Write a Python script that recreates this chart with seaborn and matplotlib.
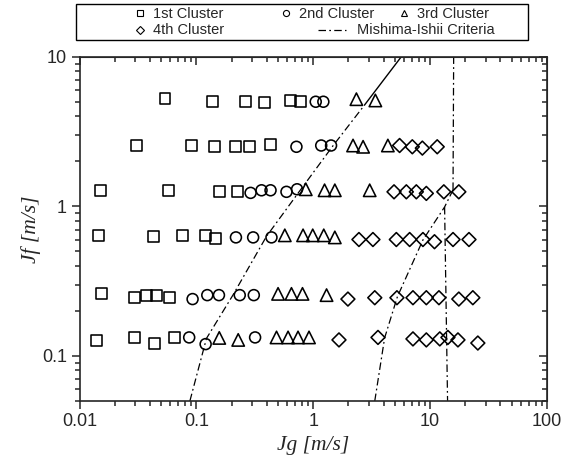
import numpy as np
import pandas as pd
import matplotlib
matplotlib.use("Agg")
import matplotlib.pyplot as plt
import seaborn as sns
from matplotlib.lines import Line2D
from matplotlib.patches import Rectangle
from matplotlib.ticker import FixedLocator, FixedFormatter, NullFormatter

# ---------------- data ----------------
c1_jg = [0.0539, 0.137, 0.264, 0.385, 0.643, 0.778,
         0.0308, 0.091, 0.144, 0.216, 0.283, 0.433,
         0.015, 0.0574, 0.157, 0.223,
         0.0145, 0.0427, 0.0756, 0.12, 0.146,
         0.0155, 0.0298, 0.0375, 0.0457, 0.0586,
         0.014, 0.0298, 0.0442, 0.0655]
c1_jf = [5.25, 5.0, 5.05, 4.95, 5.1, 5.0,
         2.55, 2.55, 2.52, 2.5, 2.52, 2.58,
         1.27, 1.28, 1.25, 1.25,
         0.64, 0.63, 0.64, 0.64, 0.61,
         0.26, 0.245, 0.255, 0.255, 0.245,
         0.126, 0.133, 0.122, 0.133]

c2_jg = [1.05, 1.22,
         0.718, 1.17, 1.42,
         0.291, 0.361, 0.431, 0.59, 0.727,
         0.218, 0.306, 0.439,
         0.0928, 0.124, 0.156, 0.235, 0.31,
         0.0868, 0.12, 0.318]
c2_jf = [5.0, 5.0,
         2.5, 2.55, 2.55,
         1.23, 1.28, 1.28, 1.25, 1.3,
         0.62, 0.62, 0.62,
         0.24, 0.255, 0.255, 0.255, 0.255,
         0.133, 0.12, 0.133]

c3_jg = [2.34, 3.4,
         2.19, 2.67, 4.35,
         0.863, 1.25, 1.53, 3.04,
         0.571, 0.818, 0.99, 1.23, 1.53,
         0.5, 0.651, 0.809, 1.30,
         0.157, 0.228, 0.485, 0.609, 0.741, 0.92]
c3_jf = [5.2, 5.1,
         2.55, 2.5, 2.55,
         1.3, 1.28, 1.28, 1.28,
         0.64, 0.64, 0.64, 0.64, 0.62,
         0.26, 0.26, 0.26, 0.255,
         0.132, 0.128, 0.133, 0.133, 0.133, 0.133]

c4_jg = [5.48, 7.04, 8.58, 11.5,
         4.91, 6.26, 7.62, 9.28, 13.1, 17.6,
         2.46, 3.24, 5.14, 6.68, 8.68, 10.9, 15.7, 21.5,
         1.98, 3.36, 5.2, 7.13, 9.28, 11.9, 17.6, 23.2,
         1.66, 3.58, 7.13, 9.28, 12.1, 14.2, 17.3, 25.6]
c4_jf = [2.55, 2.5, 2.45, 2.5,
         1.25, 1.25, 1.25, 1.22, 1.25, 1.25,
         0.6, 0.6, 0.6, 0.6, 0.6, 0.58, 0.6, 0.6,
         0.24, 0.245, 0.245, 0.245, 0.245, 0.245, 0.24, 0.245,
         0.128, 0.133, 0.13, 0.128, 0.13, 0.133, 0.128, 0.122]

# Mishima-Ishii criteria
mi_bs_jg = [0.088, 0.122, 0.206, 0.398, 0.756, 1.476, 2.75, 5.67]
mi_bs_jf = [0.05, 0.131, 0.256, 0.63, 1.25, 2.54, 4.76, 10.0]
mi_sc_jg = [3.36, 4.08, 5.25, 8.68, 13.3, 15.7]
mi_sc_jf = [0.05, 0.132, 0.249, 0.596, 0.99, 1.287]
mi_ca_top_jg = [15.7, 15.9]
mi_ca_top_jf = [1.287, 10.0]
mi_ca_low_jg = [13.3, 14.1]
mi_ca_low_jf = [0.99, 0.05]

cluster_names = ["1st Cluster", "2nd Cluster", "3rd Cluster", "4th Cluster"]
criteria_name = "Mishima-Ishii Criteria"

xticks = [0.01, 0.1, 1, 10, 100]
xticklabels = ["0.01", "0.1", "1", "10", "100"]
yticks = [0.1, 1, 10]
yticklabels = ["0.1", "1", "10"]

# ---------------- figure ----------------
sns.set_style("ticks")
plt.rcParams["font.family"] = ["Liberation Sans", "DejaVu Sans"]

W, H = 571, 465
fig = plt.figure(figsize=(W / 100, H / 100), dpi=100)
ax = fig.add_axes([79.5 / W, 1 - 401 / H, (547 - 79.5) / W, (401 - 56.7) / H])
ax.set_xscale("log")
ax.set_yscale("log")

markers = ["s", "o", "^", "D"]
sizes = [62, 62, 80, 50]
series = [(c1_jg, c1_jf), (c2_jg, c2_jf), (c3_jg, c3_jf), (c4_jg, c4_jf)]
for (gx, fy_), m, s, name in zip(series, markers, sizes, cluster_names):
    sns.scatterplot(x=gx, y=fy_, marker=m, s=s, facecolor="none",
                    edgecolor="black", linewidth=1.15, ax=ax, zorder=3)

dashdot = (0, (6, 2.6, 1.4, 2.6))
bs = pd.DataFrame({"jg": mi_bs_jg, "jf": mi_bs_jf})
lower = bs[bs.jf <= 4.76]
upper = bs[bs.jf >= 4.76]
sns.lineplot(data=lower, x="jg", y="jf", sort=False, estimator=None,
             color="black", lw=0.9, linestyle=dashdot, ax=ax)
sns.lineplot(data=upper, x="jg", y="jf", sort=False, estimator=None,
             color="black", lw=1.0, ax=ax)
for gx, fy_ in [(mi_sc_jg, mi_sc_jf), (mi_ca_top_jg, mi_ca_top_jf),
                (mi_ca_low_jg, mi_ca_low_jf)]:
    sns.lineplot(x=gx, y=fy_, sort=False, estimator=None, color="black",
                 lw=0.9, linestyle=dashdot, ax=ax)

ax.set_xlim(0.01, 100)
ax.set_ylim(0.05, 10)

for sp in ax.spines.values():
    sp.set_linewidth(1.2)
    sp.set_visible(True)

ax.xaxis.set_major_locator(FixedLocator(xticks))
ax.xaxis.set_major_formatter(FixedFormatter(xticklabels))
ax.yaxis.set_major_locator(FixedLocator(yticks))
ax.yaxis.set_major_formatter(FixedFormatter(yticklabels))
ax.xaxis.set_minor_formatter(NullFormatter())
ax.yaxis.set_minor_formatter(NullFormatter())
ax.tick_params(which="both", direction="out", width=1.1, labelsize=13,
               pad=3, top=False, right=False)
ax.tick_params(which="major", length=6)
ax.tick_params(which="minor", length=3.5)

secx = ax.secondary_xaxis("top")
secx.tick_params(which="both", direction="in", width=1.1)
secx.tick_params(which="major", length=6)
secx.tick_params(which="minor", length=3.5)
secx.xaxis.set_major_formatter(NullFormatter())
secx.xaxis.set_minor_formatter(NullFormatter())
secy = ax.secondary_yaxis("right")
secy.tick_params(which="both", direction="in", width=1.1)
secy.tick_params(which="major", length=6)
secy.tick_params(which="minor", length=3.5)
secy.yaxis.set_major_formatter(NullFormatter())
secy.yaxis.set_minor_formatter(NullFormatter())

lab_font = dict(family=["Liberation Serif", "DejaVu Serif"], style="italic", size=15.5)
ax.set_xlabel("Jg [m/s]", fontdict=lab_font, labelpad=4)
ax.set_ylabel("Jf [m/s]", fontdict=lab_font, labelpad=1)

# ---------------- legend (framed box above the axes) ----------------
def fx(px):
    return px / W

def fy(py):
    return 1 - py / H

fig.add_artist(Rectangle((fx(76), fy(40)), fx(528) - fx(76), fy(4) - fy(40),
                         transform=fig.transFigure, fill=False, lw=1.0,
                         edgecolor="black"))
leg_font = dict(size=10.5, va="center", ha="left")
r1, r2 = 13.5, 30.5
entries = [("s", 140, r1, cluster_names[0]), ("o", 286, r1, cluster_names[1]),
           ("^", 404, r1, cluster_names[2]), ("D", 140, r2, cluster_names[3])]
for m, x, y, t in entries:
    ms = 4.4 if m != "D" else 3.6
    fig.add_artist(Line2D([fx(x)], [fy(y)], marker=m, markersize=ms,
                          markerfacecolor="none", markeredgecolor="black",
                          markeredgewidth=0.8, transform=fig.transFigure))
    fig.text(fx(x + 13), fy(y), t, **leg_font)
fig.add_artist(Line2D([fx(318), fx(346)], [fy(r2), fy(r2)], color="black",
                      lw=0.9, linestyle=dashdot, transform=fig.transFigure))
fig.text(fx(357), fy(r2), criteria_name, **leg_font)

fig.savefig("out.png", dpi=100)
